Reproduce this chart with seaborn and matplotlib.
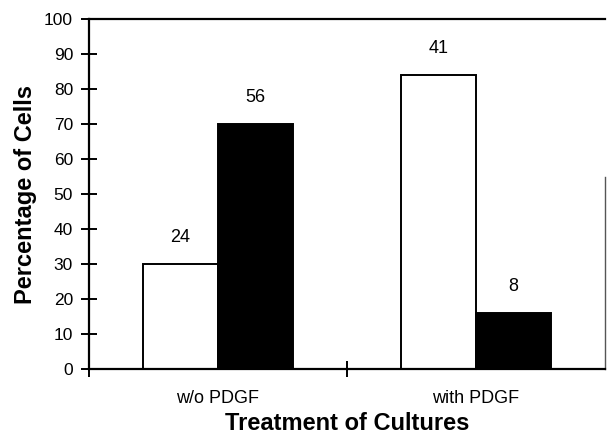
import numpy as np
import pandas as pd
import seaborn as sns
import matplotlib.pyplot as plt

treatments = ['w/o PDGF', 'with PDGF']
groups = ['open', 'filled']
pct_open = [30, 84]
pct_filled = [70, 16]
n_open = [24, 41]
n_filled = [56, 8]
yticks = list(range(0, 101, 10))

df = pd.DataFrame({
    'treatment': treatments * 2,
    'group': [groups[0]] * 2 + [groups[1]] * 2,
    'pct': pct_open + pct_filled,
    'n': n_open + n_filled,
})

sns.set_style('white')
plt.rcParams['font.family'] = ['Liberation Sans', 'DejaVu Sans']
plt.rcParams['text.color'] = 'black'
plt.rcParams['axes.labelcolor'] = 'black'
plt.rcParams['xtick.color'] = 'black'
plt.rcParams['ytick.color'] = 'black'

fig = plt.figure(figsize=(6.08, 4.38), dpi=100)
ax = fig.add_axes([89 / 608, 69 / 438, 516 / 608, 350 / 438])

sns.barplot(data=df, x='treatment', y='pct', hue='group', hue_order=groups,
            palette=['white', 'black'], edgecolor='black', linewidth=1.4,
            width=0.58, legend=False, ax=ax)

for cont, labels in zip(ax.containers, [n_open, n_filled]):
    ax.bar_label(cont, labels=[str(v) for v in labels], padding=13, fontsize=13, color='black')

ax.set_xlim(-0.5, 1.5)
ax.set_ylim(0, 100)
ax.set_yticks(yticks)
ax.tick_params(axis='y', direction='inout', length=11, width=1.4, labelsize=12.5, pad=6, left=True)
ax.tick_params(axis='x', which='major', length=0, labelsize=13, pad=15)
ax.set_xticks([-0.5, 0.5], minor=True)
ax.tick_params(axis='x', which='minor', direction='inout', length=11, width=1.4, bottom=True)

for s in ['left', 'bottom', 'top']:
    ax.spines[s].set_color('black')
    ax.spines[s].set_linewidth(1.6)
ax.spines['right'].set_color('#555555')
ax.spines['right'].set_linewidth(1.0)
ax.spines['right'].set_bounds(0, 55)

ax.set_xlabel('Treatment of Cultures', fontsize=17, fontweight='bold', labelpad=4)
ax.set_ylabel('Percentage of Cells', fontsize=17, fontweight='bold', labelpad=5)

plt.savefig('out.png', dpi=100)
